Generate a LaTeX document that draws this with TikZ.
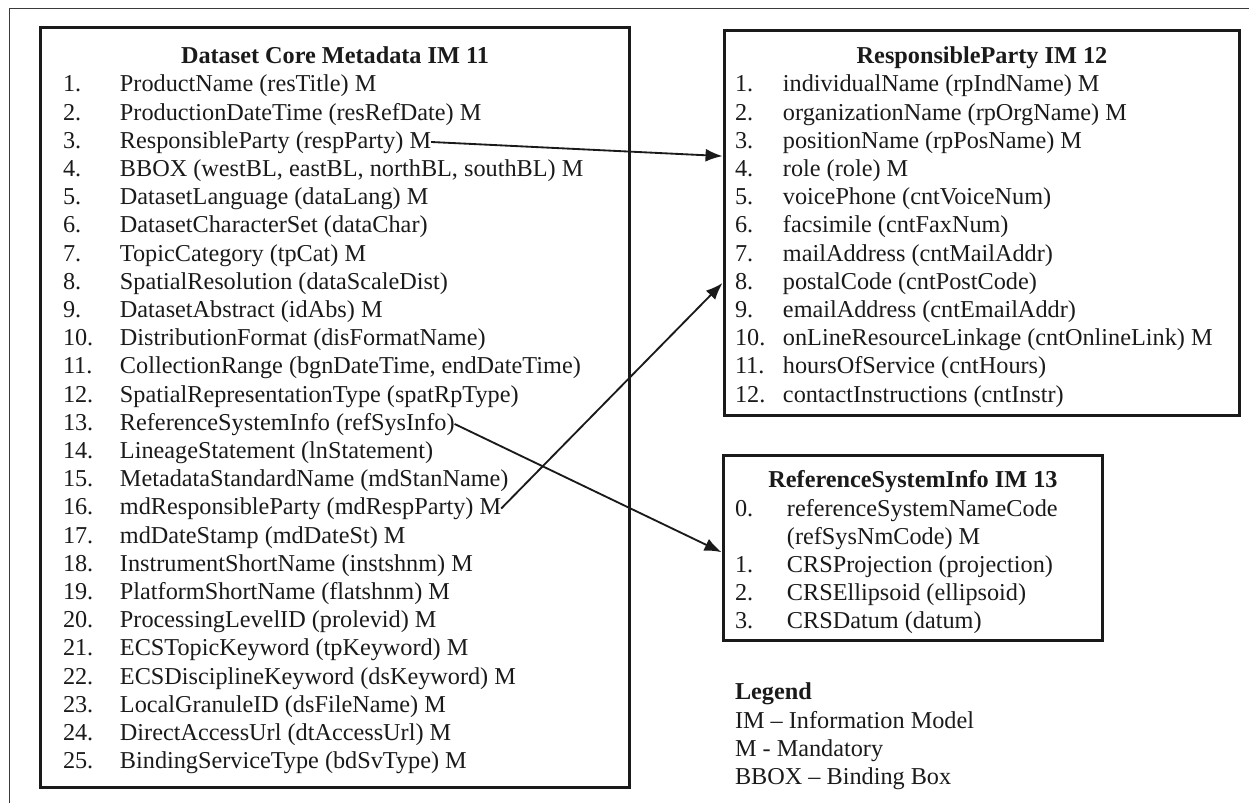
\documentclass[tikz,border=0pt]{standalone}
\usepackage{fontspec}
\setmainfont{Liberation Serif}
\usetikzlibrary{arrows.meta,calc,positioning}
\definecolor{ink}{HTML}{1A1A1A}
\definecolor{framegray}{HTML}{3A3A3A}
\newcommand{\fieldno}[2][1.14cm]{\makebox[#1][l]{#2}}
\tikzset{
  imbox/.style={
    draw=ink,
    line width=1.7pt,
    inner sep=0pt
  },
  imtitle/.style={
    font=\fontsize{13.8pt}{16pt}\selectfont\bfseries,
    text=ink,
    inner sep=0pt,
    outer sep=0pt,
    text height=11.6pt,
    text depth=4.45pt,
    anchor=north
  },
  fieldrow/.style={
    font=\fontsize{13.8pt}{16pt}\selectfont,
    text=ink,
    inner sep=0pt,
    outer sep=0pt,
    text height=11.6pt,
    text depth=4.45pt,
    anchor=north west
  },
  legendhead/.style={fieldrow, font=\fontsize{13.8pt}{16pt}\selectfont\bfseries},
  linkarrow/.style={-{Latex[length=0.34cm,width=0.26cm]}, line width=1.05pt, draw=ink},
  pagerule/.style={draw=framegray, line width=0.7pt}
}
\begin{document}
\begin{tikzpicture}[x=0.02cm, y=-0.02cm]
  \useasboundingbox (0,0) rectangle (1249,803);
  \draw[pagerule] (1249,8.3) -| (9.3,803);

  % boxes
  \node[imbox, minimum width=11.8cm, minimum height=15.22cm] (dcm) at (335,407.5) {};
  \node[imbox, minimum width=10.32cm, minimum height=7.72cm] (rp) at (982,223) {};
  \node[imbox, minimum width=7.6cm, minimum height=3.72cm] (rs) at (913,548) {};

  % Dataset Core Metadata
  \node[imtitle] (dcmt) at (335,43.2) {Dataset Core Metadata IM 11};
  \node[fieldrow] (d1) at (63,71.5) {\fieldno{1.}ProductName (resTitle) M};
  \node[fieldrow] (d2) at (d1.south west) {\fieldno{2.}ProductionDateTime (resRefDate) M};
  \node[fieldrow] (d3) at (d2.south west) {\fieldno{3.}ResponsibleParty (respParty) M};
  \node[fieldrow] (d4) at (d3.south west) {\fieldno{4.}BBOX (westBL, eastBL, northBL, southBL) M};
  \node[fieldrow] (d5) at (d4.south west) {\fieldno{5.}DatasetLanguage (dataLang) M};
  \node[fieldrow] (d6) at (d5.south west) {\fieldno{6.}DatasetCharacterSet (dataChar)};
  \node[fieldrow] (d7) at (d6.south west) {\fieldno{7.}TopicCategory (tpCat) M};
  \node[fieldrow] (d8) at (d7.south west) {\fieldno{8.}SpatialResolution (dataScaleDist)};
  \node[fieldrow] (d9) at (d8.south west) {\fieldno{9.}DatasetAbstract (idAbs) M};
  \node[fieldrow] (d10) at (d9.south west) {\fieldno{10.}DistributionFormat (disFormatName)};
  \node[fieldrow] (d11) at (d10.south west) {\fieldno{11.}CollectionRange (bgnDateTime, endDateTime)};
  \node[fieldrow] (d12) at (d11.south west) {\fieldno{12.}SpatialRepresentationType (spatRpType)};
  \node[fieldrow] (d13) at (d12.south west) {\fieldno{13.}ReferenceSystemInfo (refSysInfo)};
  \node[fieldrow] (d14) at (d13.south west) {\fieldno{14.}LineageStatement (lnStatement)};
  \node[fieldrow] (d15) at (d14.south west) {\fieldno{15.}MetadataStandardName (mdStanName)};
  \node[fieldrow] (d16) at (d15.south west) {\fieldno{16.}mdResponsibleParty (mdRespParty) M};
  \node[fieldrow] (d17) at (d16.south west) {\fieldno{17.}mdDateStamp (mdDateSt) M};
  \node[fieldrow] (d18) at (d17.south west) {\fieldno{18.}InstrumentShortName (instshnm) M};
  \node[fieldrow] (d19) at (d18.south west) {\fieldno{19.}PlatformShortName (flatshnm) M};
  \node[fieldrow] (d20) at (d19.south west) {\fieldno{20.}ProcessingLevelID (prolevid) M};
  \node[fieldrow] (d21) at (d20.south west) {\fieldno{21.}ECSTopicKeyword (tpKeyword) M};
  \node[fieldrow] (d22) at (d21.south west) {\fieldno{22.}ECSDisciplineKeyword (dsKeyword) M};
  \node[fieldrow] (d23) at (d22.south west) {\fieldno{23.}LocalGranuleID (dsFileName) M};
  \node[fieldrow] (d24) at (d23.south west) {\fieldno{24.}DirectAccessUrl (dtAccessUrl) M};
  \node[fieldrow] (d25) at (d24.south west) {\fieldno{25.}BindingServiceType (bdSvType) M};

  % ResponsibleParty
  \node[imtitle] (rpt) at (982,43.2) {ResponsibleParty IM 12};
  \node[fieldrow] (r1) at (735,71.5) {\fieldno[0.96cm]{1.}individualName (rpIndName) M};
  \node[fieldrow] (r2) at (r1.south west) {\fieldno[0.96cm]{2.}organizationName (rpOrgName) M};
  \node[fieldrow] (r3) at (r2.south west) {\fieldno[0.96cm]{3.}positionName (rpPosName) M};
  \node[fieldrow] (r4) at (r3.south west) {\fieldno[0.96cm]{4.}role (role) M};
  \node[fieldrow] (r5) at (r4.south west) {\fieldno[0.96cm]{5.}voicePhone (cntVoiceNum)};
  \node[fieldrow] (r6) at (r5.south west) {\fieldno[0.96cm]{6.}facsimile (cntFaxNum)};
  \node[fieldrow] (r7) at (r6.south west) {\fieldno[0.96cm]{7.}mailAddress (cntMailAddr)};
  \node[fieldrow] (r8) at (r7.south west) {\fieldno[0.96cm]{8.}postalCode (cntPostCode)};
  \node[fieldrow] (r9) at (r8.south west) {\fieldno[0.96cm]{9.}emailAddress (cntEmailAddr)};
  \node[fieldrow] (r10) at (r9.south west) {\fieldno[0.96cm]{10.}onLineResourceLinkage (cntOnlineLink) M};
  \node[fieldrow] (r11) at (r10.south west) {\fieldno[0.96cm]{11.}hoursOfService (cntHours)};
  \node[fieldrow] (r12) at (r11.south west) {\fieldno[0.96cm]{12.}contactInstructions (cntInstr)};

  % ReferenceSystemInfo
  \node[imtitle] (rst) at (913,467.5) {ReferenceSystemInfo IM 13};
  \node[fieldrow] (s0) at (735,495.8) {\fieldno[1.04cm]{0.}referenceSystemNameCode};
  \node[fieldrow] (s0b) at (s0.south west) {\fieldno[1.04cm]{}(refSysNmCode) M};
  \node[fieldrow] (s1) at (s0b.south west) {\fieldno[1.04cm]{1.}CRSProjection (projection)};
  \node[fieldrow] (s2) at (s1.south west) {\fieldno[1.04cm]{2.}CRSEllipsoid (ellipsoid)};
  \node[fieldrow] (s3) at (s2.south west) {\fieldno[1.04cm]{3.}CRSDatum (datum)};

  % legend
  \node[legendhead] (lg) at (735,679.5) {Legend};
  \node[fieldrow] (lg1) at (lg.south west) {IM -- Information Model};
  \node[fieldrow] (lg2) at (lg1.south west) {M - Mandatory};
  \node[fieldrow] (lg3) at (lg2.south west) {BBOX -- Binding Box};

  % links
  \draw[linkarrow] (d3.east) -- (rp.west |- r4.north);
  \draw[linkarrow] (d16.east) -- (rp.west |- r8);
  \draw[linkarrow] (d13.east) -- (rs.west |- s1.north);
\end{tikzpicture}
\end{document}
